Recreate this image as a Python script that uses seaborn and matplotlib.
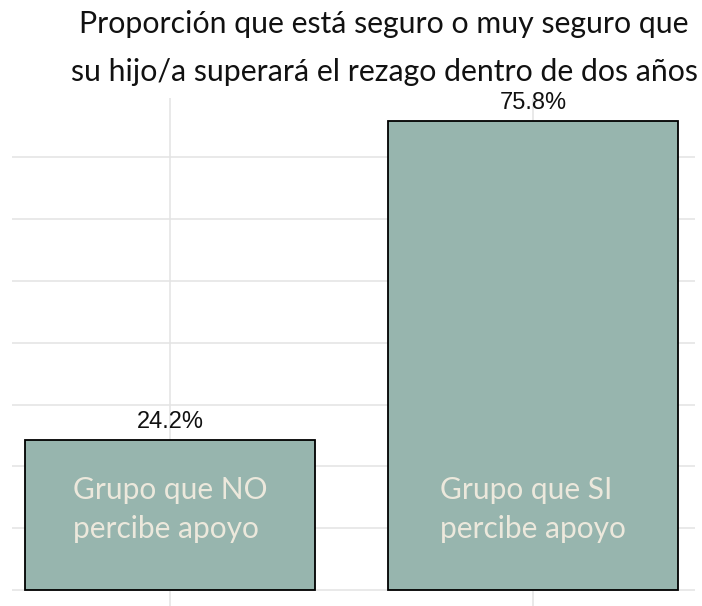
import matplotlib
matplotlib.use("Agg")
import pandas as pd
import matplotlib.pyplot as plt
import seaborn as sns

# datos
grupos = ["Grupo que NO\npercibe apoyo", "Grupo que SI\npercibe apoyo"]
porcentajes = [24.2, 75.8]
etiquetas = ["24.2%", "75.8%"]
titulo = "Proporción que está seguro o muy seguro que\nsu hijo/a superará el rezago dentro de dos años"

df = pd.DataFrame({"grupo": grupos, "pct": porcentajes})

sns.set_style("white")
plt.rcParams["font.family"] = ["Lato", "DejaVu Sans"]

W, H = 702, 606
fig = plt.figure(figsize=(W / 100, H / 100), dpi=100)
ax = fig.add_axes([12 / W, 0, (695 - 12) / W, (606 - 98) / H])

sns.barplot(data=df, x="grupo", y="pct", color="#97b5ae", saturation=1,
            width=0.8, edgecolor="black", linewidth=1.3, ax=ax, zorder=2)

ax.set_xlim(-0.437, 1.447)
ax.set_ylim(-2.59, 79.6)
ax.set_yticks(range(0, 80, 10))
ax.set_xticks([0, 1])
ax.grid(True, color="#e3e3e3", linewidth=1.1, zorder=0)
ax.set_axisbelow(True)
ax.tick_params(length=0, labelbottom=False, labelleft=False)
ax.set_xlabel("")
ax.set_ylabel("")
for s in ax.spines.values():
    s.set_visible(False)

# etiquetas
for i, (v, lab) in enumerate(zip(porcentajes, etiquetas)):
    ax.text(i, v + 1.2, lab, ha="center", va="bottom", fontsize=17,
            family="Liberation Sans", color="#111111", zorder=3)
    ax.text(i, 13, grupos[i], ha="center", va="center", multialignment="left",
            fontsize=21.5, color="#ece8dc", linespacing=1.45, zorder=3)

fig.text(384 / W, 1 - 48 / H, titulo, ha="center", va="center", fontsize=21.8,
         color="#111111", linespacing=1.85)

fig.savefig("out.png", dpi=100)
